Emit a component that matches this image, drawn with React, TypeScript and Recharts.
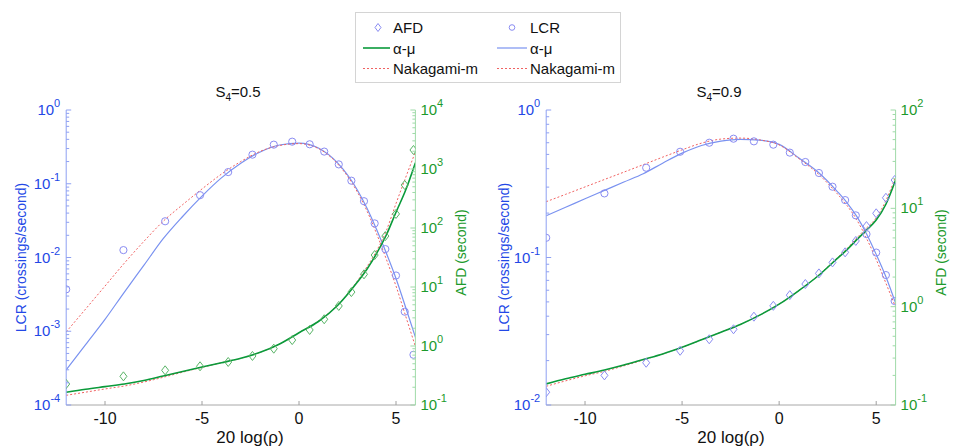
import React from 'react';
import { ComposedChart, Line, Scatter, XAxis, YAxis } from 'recharts';

// ---------- data ----------
const xTicks = [-10, -5, 0, 5];
const fitX = [-12, -11, -10, -9, -8, -7, -6, -5, -4, -3, -2, -1, 0, 1, 2, 3, 3.5, 4, 4.5, 5, 5.5, 6];

// S4 = 0.5 (left panel)
const simX05 = [-12, -9.05, -6.9, -5.1, -3.65, -2.4, -1.3, -0.35, 0.55, 1.3, 2.05, 2.7, 3.35, 3.9, 4.45, 5.0, 5.45, 5.9];
const lcrSim05 = [0.0037, 0.0126, 0.031, 0.07, 0.144, 0.248, 0.339, 0.372, 0.343, 0.273, 0.183, 0.11, 0.058, 0.029, 0.013, 0.0057, 0.00184, 0.00048];
const afdSim05 = [0.227, 0.306, 0.387, 0.453, 0.536, 0.678, 0.9, 1.26, 1.87, 2.84, 4.77, 8.2, 16.4, 34.8, 73, 173, 536, 2100];
const lcrAlphaMu05 = [0.0003, 0.00066, 0.00145, 0.0034, 0.0078, 0.018, 0.036, 0.068, 0.12, 0.19, 0.27, 0.335, 0.356, 0.305, 0.19, 0.083, 0.047, 0.024, 0.0115, 0.0052, 0.0021, 0.00083];
const lcrNaka05 = [0.00098, 0.002, 0.0041, 0.0084, 0.0165, 0.031, 0.052, 0.085, 0.135, 0.2, 0.275, 0.33, 0.35, 0.3, 0.185, 0.078, 0.043, 0.021, 0.0095, 0.0041, 0.0016, 0.00062];
const afdAlphaMu05 = [0.164, 0.185, 0.205, 0.227, 0.26, 0.31, 0.37, 0.44, 0.52, 0.62, 0.78, 1.08, 1.68, 2.6, 4.9, 12, 20, 37, 76, 185, 440, 1280];
const afdNaka05 = [0.146, 0.165, 0.187, 0.21, 0.245, 0.295, 0.36, 0.435, 0.52, 0.62, 0.78, 1.08, 1.68, 2.65, 5.0, 12.5, 22, 41, 90, 260, 720, 1950];

// S4 = 0.9 (right panel)
const simX09 = [-12, -9, -6.85, -5.1, -3.6, -2.35, -1.3, -0.3, 0.55, 1.35, 2.05, 2.75, 3.4, 3.95, 4.5, 5.0, 5.5, 5.95];
const lcrSim09 = [0.136, 0.272, 0.406, 0.521, 0.6, 0.639, 0.613, 0.582, 0.514, 0.444, 0.374, 0.302, 0.245, 0.193, 0.144, 0.108, 0.076, 0.0507];
const afdSim09 = [0.135, 0.2, 0.269, 0.356, 0.466, 0.589, 0.791, 1.02, 1.31, 1.7, 2.18, 2.82, 3.57, 4.66, 6.6, 8.9, 12.8, 19.4];
const lcrAlphaMu09 = [0.192, 0.219, 0.25, 0.285, 0.325, 0.37, 0.436, 0.51, 0.575, 0.615, 0.633, 0.625, 0.585, 0.475, 0.38, 0.28, 0.235, 0.19, 0.145, 0.105, 0.074, 0.049];
const lcrNaka09 = [0.239, 0.268, 0.301, 0.338, 0.379, 0.426, 0.479, 0.537, 0.596, 0.635, 0.645, 0.627, 0.58, 0.47, 0.37, 0.27, 0.225, 0.18, 0.135, 0.097, 0.067, 0.046];
const afdAlphaMu09 = [0.164, 0.185, 0.205, 0.227, 0.255, 0.29, 0.33, 0.386, 0.46, 0.55, 0.66, 0.82, 1.06, 1.45, 2.05, 3.1, 3.8, 4.8, 6.0, 7.6, 11, 19.4];
const afdNaka09 = [0.155, 0.176, 0.198, 0.22, 0.25, 0.287, 0.33, 0.386, 0.46, 0.55, 0.66, 0.82, 1.06, 1.45, 2.06, 3.15, 3.9, 5.0, 6.3, 8.0, 12, 21];

const legendLabels = { afd: 'AFD', lcr: 'LCR', alphaMu: 'α-μ', naka: 'Nakagami-m' };
const titles = ['0.5', '0.9'];

// ---------- styles ----------
const FONT = '"Liberation Sans", Arial, sans-serif';
const BLUE_TXT = '#2348e6';
const GREEN_TXT = '#1c9a2c';
const BLUE_AXIS = '#8ea0f2';
const GREEN_AXIS = '#9fdaa8';
const BLUE_LINE = '#7a92f0';
const BLUE_MARK = '#8a8cf2';
const GREEN_LINE = '#0a9a3a';
const GREEN_MARK = '#58b466';
const RED = '#f06262';

const zip = (xs: number[], ys: number[]) => xs.map((x, i) => ({ x, y: ys[i] }));

const logTicks = (lo: number, hi: number) => {
  const t: number[] = [];
  for (let e = lo; e < hi; e++) {
    for (let m = 1; m <= 9; m++) t.push(Number((m * Math.pow(10, e)).toPrecision(6)));
  }
  t.push(Math.pow(10, hi));
  return t;
};

const makeYTick = (side: 'left' | 'right', txt: string, axis: string) => (props: any) => {
  const { x, y, payload } = props;
  const v = payload.value;
  const lg = Math.log10(v);
  const major = Math.abs(lg - Math.round(lg)) < 1e-6;
  const len = major ? 5 : 3;
  const dir = side === 'left' ? 1 : -1;
  return (
    <g>
      <line x1={x} x2={x + dir * len} y1={y} y2={y} stroke={axis} strokeWidth={1} />
      {major && (
        <text
          x={side === 'left' ? x - 6 : x + 5}
          y={y + 5}
          textAnchor={side === 'left' ? 'end' : 'start'}
          fill={txt}
          fontSize={15}
          fontFamily={FONT}
        >
          <tspan>10</tspan>
          <tspan dy={-8} fontSize={11}>{String(Math.round(lg))}</tspan>
        </text>
      )}
    </g>
  );
};

const XTick = (props: any) => {
  const { x, y, payload } = props;
  return (
    <g>
      <line x1={x} x2={x} y1={y} y2={y - 4} stroke="#a0a0a0" />
      <text x={x} y={y + 19} textAnchor="middle" fill="#111" fontSize={16} fontFamily={FONT}>
        {String(payload.value)}
      </text>
    </g>
  );
};

const circleShape = (color: string) => (p: any) => (
  <circle cx={p.cx} cy={p.cy} r={3.6} fill="none" stroke={color} strokeWidth={1} />
);
const diamondShape = (color: string) => (p: any) => (
  <path
    d={`M${p.cx},${p.cy - 4.5} L${p.cx + 3.5},${p.cy} L${p.cx},${p.cy + 4.5} L${p.cx - 3.5},${p.cy} Z`}
    fill="none"
    stroke={color}
    strokeWidth={1}
  />
);

type PanelProps = {
  width: number;
  margin: { top: number; right: number; bottom: number; left: number };
  lcrDomain: [number, number];
  afdDomain: [number, number];
  lcrTicks: number[];
  afdTicks: number[];
  simX: number[];
  lcrSim: number[];
  afdSim: number[];
  lcrA: number[];
  lcrN: number[];
  afdA: number[];
  afdN: number[];
  diamondColor: string;
};

const Panel = (p: PanelProps) => (
  <ComposedChart width={p.width} height={447} margin={p.margin}>
    <XAxis
      dataKey="x"
      type="number"
      domain={[-12, 6]}
      ticks={xTicks}
      interval={0}
      allowDataOverflow
      height={42}
      tickSize={0}
      tickMargin={0}
      tickLine={false}
      axisLine={{ stroke: '#a8a8a8' }}
      tick={XTick}
    />
    <YAxis
      yAxisId="lcr"
      orientation="left"
      dataKey="y"
      type="number"
      scale="log"
      domain={p.lcrDomain}
      allowDataOverflow
      ticks={p.lcrTicks}
      interval={0}
      width={60}
      tickSize={0}
      tickMargin={0}
      tickLine={false}
      axisLine={{ stroke: BLUE_AXIS }}
      tick={makeYTick('left', BLUE_TXT, BLUE_AXIS)}
    />
    <YAxis
      yAxisId="afd"
      orientation="right"
      dataKey="y"
      type="number"
      scale="log"
      domain={p.afdDomain}
      allowDataOverflow
      ticks={p.afdTicks}
      interval={0}
      width={55}
      tickSize={0}
      tickMargin={0}
      tickLine={false}
      axisLine={{ stroke: GREEN_AXIS }}
      tick={makeYTick('right', GREEN_TXT, GREEN_AXIS)}
    />
    <Line yAxisId="lcr" data={zip(fitX, p.lcrA)} dataKey="y" type="monotone" stroke={BLUE_LINE} strokeWidth={1.2} dot={false} isAnimationActive={false} />
    <Line yAxisId="lcr" data={zip(fitX, p.lcrN)} dataKey="y" type="monotone" stroke={RED} strokeWidth={1} strokeDasharray="2 2" dot={false} isAnimationActive={false} />
    <Line yAxisId="afd" data={zip(fitX, p.afdN)} dataKey="y" type="monotone" stroke={RED} strokeWidth={1} strokeDasharray="2 2" dot={false} isAnimationActive={false} />
    <Line yAxisId="afd" data={zip(fitX, p.afdA)} dataKey="y" type="monotone" stroke={GREEN_LINE} strokeWidth={1.6} dot={false} isAnimationActive={false} />
    <Scatter yAxisId="lcr" data={zip(p.simX, p.lcrSim)} dataKey="y" shape={circleShape(BLUE_MARK)} isAnimationActive={false} />
    <Scatter yAxisId="afd" data={zip(p.simX, p.afdSim)} dataKey="y" shape={diamondShape(p.diamondColor)} isAnimationActive={false} />
  </ComposedChart>
);

const Title = ({ cx, s }: { cx: number; s: string }) => (
  <text x={cx} y={97} textAnchor="middle" fontSize={15} fontFamily={FONT} fill="#111">
    <tspan>S</tspan>
    <tspan dy={4} fontSize={10}>4</tspan>
    <tspan dy={-4}>{'=' + s}</tspan>
  </text>
);

const VLabel = ({ x, y, text, color }: { x: number; y: number; text: string; color: string }) => (
  <text
    x={x}
    y={y}
    transform={`rotate(-90 ${x} ${y})`}
    textAnchor="middle"
    dominantBaseline="central"
    fontSize={14}
    fontFamily={FONT}
    fill={color}
  >
    {text}
  </text>
);

export default function App() {
  const lcrTicksL = logTicks(-4, 0);
  const afdTicksL = logTicks(-1, 4);
  const lcrTicksR = logTicks(-2, 0);
  const afdTicksR = logTicks(-1, 2);
  return (
    <div style={{ position: 'absolute', left: 0, top: 0, width: 953, height: 447, background: '#fff', overflow: 'hidden' }}>
      <div style={{ position: 'absolute', left: 0, top: 0 }}>
        <Panel
          width={476}
          margin={{ top: 110, right: 5.6, bottom: 0, left: 6.2 }}
          lcrDomain={[1e-4, 1]}
          afdDomain={[0.1, 10000]}
          lcrTicks={lcrTicksL}
          afdTicks={afdTicksL}
          simX={simX05}
          lcrSim={lcrSim05}
          afdSim={afdSim05}
          lcrA={lcrAlphaMu05}
          lcrN={lcrNaka05}
          afdA={afdAlphaMu05}
          afdN={afdNaka05}
          diamondColor={GREEN_MARK}
        />
      </div>
      <div style={{ position: 'absolute', left: 476, top: 0 }}>
        <Panel
          width={477}
          margin={{ top: 110, right: 2.4, bottom: 0, left: 10.2 }}
          lcrDomain={[0.01, 1]}
          afdDomain={[0.1, 100]}
          lcrTicks={lcrTicksR}
          afdTicks={afdTicksR}
          simX={simX09}
          lcrSim={lcrSim09}
          afdSim={afdSim09}
          lcrA={lcrAlphaMu09}
          lcrN={lcrNaka09}
          afdA={afdAlphaMu09}
          afdN={afdNaka09}
          diamondColor={BLUE_MARK}
        />
      </div>
      <svg width={953} height={447} style={{ position: 'absolute', left: 0, top: 0, pointerEvents: 'none' }}>
        {/* legend */}
        <rect x={355.5} y={12.5} width={265} height={70} fill="#fff" stroke="#d4d4d4" />
        <path d="M378,23.5 L381,27.5 L378,31.5 L375,27.5 Z" fill="none" stroke={BLUE_MARK} />
        <text x={393} y={33} fontSize={15} fontFamily={FONT} fill="#111">{legendLabels.afd}</text>
        <line x1={363} x2={390} y1={48} y2={48} stroke={GREEN_LINE} strokeWidth={1.6} />
        <text x={393} y={54} fontSize={15} fontFamily={FONT} fill="#111">{legendLabels.alphaMu}</text>
        <line x1={363} x2={390} y1={68.5} y2={68.5} stroke={RED} strokeDasharray="2 2" />
        <text x={393} y={74} fontSize={15} fontFamily={FONT} fill="#111">{legendLabels.naka}</text>

        <circle cx={512} cy={27.5} r={2.8} fill="none" stroke={BLUE_MARK} />
        <text x={530} y={33} fontSize={15} fontFamily={FONT} fill="#111">{legendLabels.lcr}</text>
        <line x1={497} x2={527} y1={48} y2={48} stroke={BLUE_LINE} strokeWidth={1.2} />
        <text x={530} y={54} fontSize={15} fontFamily={FONT} fill="#111">{legendLabels.alphaMu}</text>
        <line x1={497} x2={527} y1={68.5} y2={68.5} stroke={RED} strokeDasharray="2 2" />
        <text x={530} y={74} fontSize={15} fontFamily={FONT} fill="#111">{legendLabels.naka}</text>

        {/* titles */}
        <Title cx={238} s={titles[0]} />
        <Title cx={719} s={titles[1]} />

        {/* axis labels */}
        <VLabel x={21} y={257.5} text="LCR (crossings/second)" color={BLUE_TXT} />
        <VLabel x={461} y={252.5} text="AFD (second)" color={GREEN_TXT} />
        <VLabel x={504} y={257.5} text="LCR (crossings/second)" color={BLUE_TXT} />
        <VLabel x={941} y={252.5} text="AFD (second)" color={GREEN_TXT} />
        <text x={250} y={443} textAnchor="middle" fontSize={17} fontFamily={FONT} fill="#111">20 log(ρ)</text>
        <text x={731} y={443} textAnchor="middle" fontSize={17} fontFamily={FONT} fill="#111">20 log(ρ)</text>
      </svg>
    </div>
  );
}
